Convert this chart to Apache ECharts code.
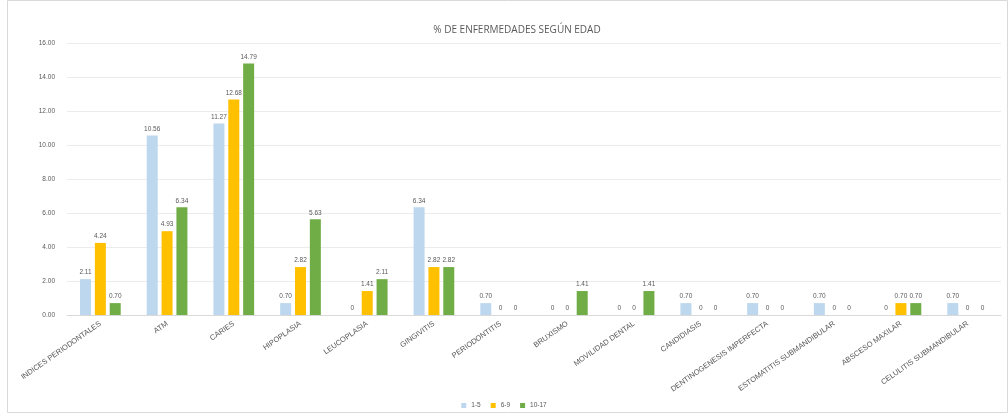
<!DOCTYPE html>
<html>
<head>
<meta charset="utf-8">
<script src="https://cdn.jsdelivr.net/npm/echarts@6/dist/echarts.min.js"></script>
<style>html,body{margin:0;padding:0;background:#fff;}#c{width:1008px;height:414px;}</style>
</head>
<body>
<div id="c"></div>
<script>
const categories = ["INDICES PERIODONTALES","ATM","CARIES","HIPOPLASIA","LEUCOPLASIA","GINGIVITIS","PERIODONTITIS","BRUXISMO","MOVILIDAD DENTAL","CANDIDIASIS","DENTINOGENESIS IMPERFECTA","ESTOMATITIS SUBMANDIBULAR","ABSCESO MAXILAR","CELULITIS SUBMANDIBULAR"];
const seriesNames = ["1-5","6-9","10-17"];
const s1 = [2.11,10.56,11.27,0.70,0,6.34,0.70,0,0,0.70,0.70,0.70,0,0.70];
const s2 = [4.24,4.93,12.68,2.82,1.41,2.82,0,0,0,0,0,0,0.70,0];
const s3 = [0.70,6.34,14.79,5.63,2.11,2.82,0,1.41,1.41,0,0,0,0.70,0];
const colors = ["#BDD7EE","#FFC000","#70AD47"];

const chart = echarts.init(document.getElementById('c'));
const lbl = {show:true, position:'top', fontSize:6.5, color:'#595959', distance:3,
  formatter: p => p.value === 0 ? '0' : p.value.toFixed(2)};
function mk(name, data, color){
  return {name, type:'bar', data, barWidth:11, barGap:'35%', itemStyle:{color}, label:lbl};
}
chart.setOption({
  animation:false,
  title:{text:'% DE ENFERMEDADES SEGÚN EDAD', left:512, top:20, textAlign:'center',
    textStyle:{fontSize:10, fontWeight:'normal', color:'#595959', fontFamily:'Open Sans'}},
  legend:{bottom:0, left:'center', itemWidth:5, itemHeight:5, itemGap:10,
    textStyle:{fontSize:6.5, color:'#595959'}, icon:'rect'},
  grid:{left:67, right:7, top:43, bottom:99},
  xAxis:{type:'category', data:categories,
    axisLine:{lineStyle:{color:'#d9d9d9'}}, axisTick:{show:false},
    axisLabel:{rotate:35, fontSize:7.5, color:'#595959', interval:0, margin:8}},
  yAxis:{type:'value', min:0, max:16, interval:2,
    axisLabel:{fontSize:6.5, color:'#595959', formatter: v => v.toFixed(2), margin:12},
    splitLine:{lineStyle:{color:'#ececec'}}, axisLine:{show:false}},
  graphic:[{type:'rect', shape:{x:7.5, y:0.5, width:1000, height:412}, style:{fill:'none', stroke:'#d9d9d9'}, silent:true}],
  series:[mk(seriesNames[0],s1,colors[0]), mk(seriesNames[1],s2,colors[1]), mk(seriesNames[2],s3,colors[2])]
});
</script>
</body>
</html>
